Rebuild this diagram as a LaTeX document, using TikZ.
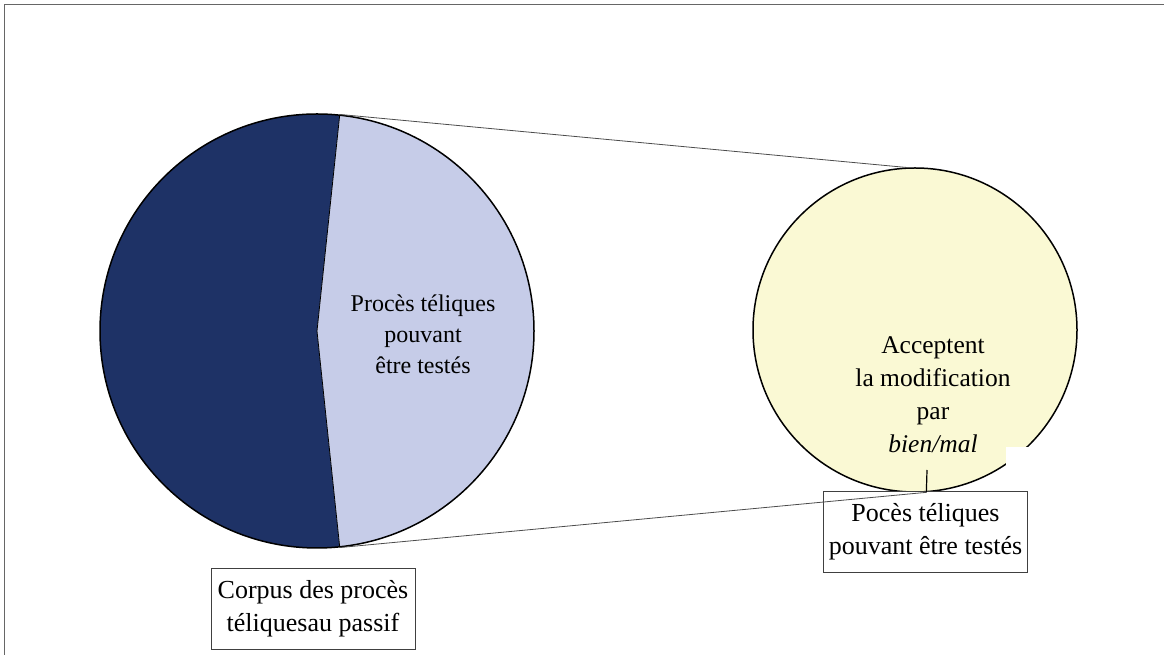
\documentclass[tikz,border=0pt]{standalone}
\usepackage{fontspec}
\setmainfont{Liberation Serif}
\usetikzlibrary{positioning}
\definecolor{pienavy}{RGB}{30,50,102}
\definecolor{pielavender}{RGB}{198,204,232}
\definecolor{paleyellow}{RGB}{250,249,212}
\tikzstyle{disc} = [circle, draw=black, line width=1.5pt, inner sep=0pt]
\tikzstyle{caption} = [rectangle, draw=black!75, fill=white, line width=0.7pt, align=center, minimum width=204pt, minimum height=81pt, font=\fontsize{26}{33}\selectfont]
\tikzstyle{zoomline} = [draw=black!70, line width=0.8pt]

\begin{document}
\begin{tikzpicture}[x=1pt, y=1pt]
\useasboundingbox (0,0) rectangle (1164,655);

% Frame
\draw[black!60, line width=1pt] (4,0) -- (4,650) -- (1164,650);

% Pie
\fill[pienavy] (317,324) -- ++(84:217) arc[start angle=84, end angle=276, radius=217] -- cycle;
\fill[pielavender] (317,324) -- ++(-84:217) arc[start angle=-84, end angle=84, radius=217] -- cycle;
\draw[black, line width=0.8pt] (317,324) ++(84:217) -- (317,324) -- ++(-84:217);
\node (corpus) [disc, minimum size=434pt] at (317,324) {};
\node (testables) at (423,321) [align=center, font=\fontsize{24}{31}\selectfont] {Procès téliques\\pouvant\\être testés};

% Zoomed circle
\node (modif) [disc, fill=paleyellow, minimum size=324pt] at (915,325) {};
\fill[white] (1006,185) rectangle (1040,208);
\node (accept) at (933,260) [align=center, font=\fontsize{25.5}{33}\selectfont] {Acceptent\\la modification\\par\\\textit{bien/mal}};

% Boxes
\node (corpuslabel) [caption, below=19pt of corpus, xshift=-4pt] {Corpus des procès\\téliquesau passif};
\node (testlabel) [caption] at (925.5,123.5) {Pocès téliques\\pouvant être testés};

% Lines
\coordinate (tick) at (927,185);
\draw[zoomline] (corpus.84) -- (modif.93);
\draw[zoomline] (corpus.-84) -- (modif.-86);
\draw[black, line width=1.2pt] (tick) -- (modif.-86);

\end{tikzpicture}
\end{document}
